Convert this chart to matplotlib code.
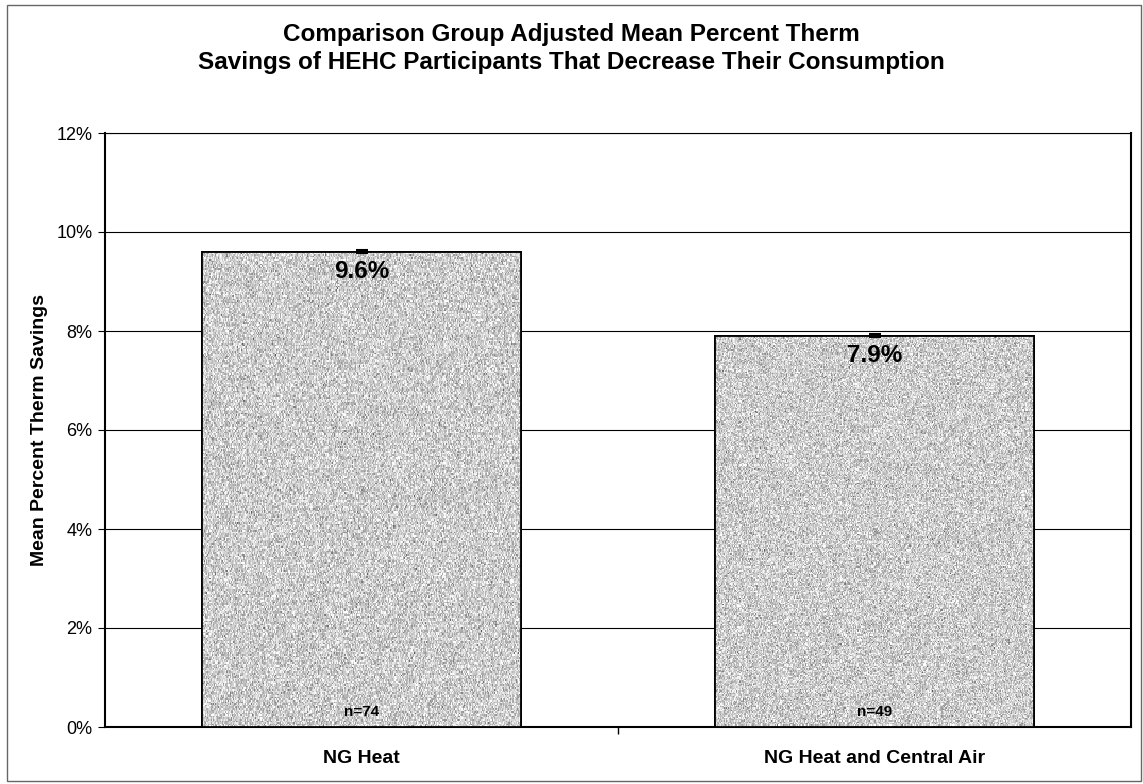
import numpy as np
import matplotlib
matplotlib.use("Agg")
import matplotlib.pyplot as plt
from matplotlib.patches import Rectangle
from matplotlib.ticker import FuncFormatter, MultipleLocator

plt.rcParams['font.family'] = ['Liberation Sans', 'DejaVu Sans']

# 数据
categories = ["NG Heat", "NG Heat and Central Air"]
savings = [9.6, 7.9]          # mean percent therm savings (%)
errors = [0.03, 0.03]         # tiny error bars shown at bar tops
sample_sizes = [74, 49]
title_lines = ["Comparison Group Adjusted Mean Percent Therm",
               "Savings of HEHC Participants That Decrease Their Consumption"]

fig = plt.figure(figsize=(11.43, 7.84), dpi=100)
W, H = 1143, 784
ax = fig.add_axes([105 / W, 1 - 727 / H, (1131 - 105) / W, (727 - 133) / H])

x = np.arange(len(categories))
bars = ax.bar(x, savings, width=0.62, color="#c6c6c6", edgecolor="black",
              linewidth=1.3, zorder=3)

# 斑点纹理（扫描件风格）
rng = np.random.default_rng(3)
tex = rng.normal(0.80, 0.12, size=(300, 300)).clip(0.35, 1.0)
for b in bars:
    bx, by = b.get_x(), b.get_y()
    im = ax.imshow(tex, cmap="gray", vmin=0, vmax=1, aspect="auto",
                   extent=(bx, bx + b.get_width(), by, by + b.get_height()),
                   zorder=3.5, interpolation="nearest")
    im.set_clip_path(b)
    edge = Rectangle((bx, by), b.get_width(), b.get_height(), fill=False,
                     edgecolor="black", linewidth=1.3, zorder=4)
    ax.add_patch(edge)

ax.errorbar(x, savings, yerr=errors, fmt="none", ecolor="black",
            elinewidth=1.5, capsize=4, capthick=1.5, zorder=5)

for xi, v, n in zip(x, savings, sample_sizes):
    ax.text(xi, v - 0.17, f"{v:.1f}%", ha="center", va="top",
            fontsize=17.5, fontweight="bold", zorder=6)
    ax.text(xi, 0.17, f"n={n}", ha="center", va="bottom",
            fontsize=11, fontweight="bold", zorder=6)

ax.set_xlim(-0.5, 1.5)
ax.set_ylim(0, 12)
ax.yaxis.set_major_locator(MultipleLocator(2))
ax.yaxis.set_major_formatter(FuncFormatter(lambda v, p: f"{v:.0f}%"))
ax.grid(axis="y", color="black", linewidth=0.8, zorder=0)
ax.set_axisbelow(True)

ax.set_xticks([0.5])
ax.set_xticklabels([""])
ax.tick_params(axis="x", length=5, width=1, direction="out")
for xi, c in zip(x, categories):
    ax.text(xi, -0.47, c, ha="center", va="top", fontsize=14,
            fontweight="bold", transform=ax.transData)
ax.tick_params(axis="y", length=5, width=0.8, labelsize=13, pad=4)

for s in ["left", "bottom"]:
    ax.spines[s].set_linewidth(1.5)
ax.spines["top"].set_linewidth(0.8)
ax.spines["right"].set_linewidth(1.5)

ax.set_ylabel("Mean Percent Therm Savings", fontsize=14, fontweight="bold",
              labelpad=6)

fig.text(0.5, 1 - 35 / H, title_lines[0], ha="center", va="center",
         fontsize=17.5, fontweight="bold")
fig.text(0.5, 1 - 62 / H, title_lines[1], ha="center", va="center",
         fontsize=17.5, fontweight="bold")

# 外框
fig.add_artist(Rectangle((7 / W, 1 - 781 / H), (1141 - 7) / W, (781 - 5) / H,
                         transform=fig.transFigure, fill=False,
                         edgecolor="#666666", linewidth=1.0))

fig.savefig("out.png", dpi=100)
